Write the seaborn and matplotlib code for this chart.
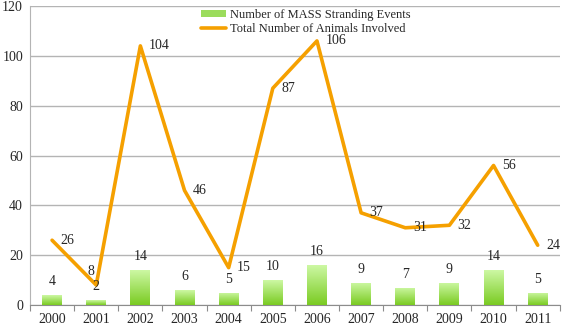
import numpy as np
import pandas as pd
import matplotlib
matplotlib.use("Agg")
import matplotlib.pyplot as plt
import seaborn as sns
from matplotlib.colors import LinearSegmentedColormap
from matplotlib.patches import Patch
from matplotlib.lines import Line2D

years = ["2000", "2001", "2002", "2003", "2004", "2005",
         "2006", "2007", "2008", "2009", "2010", "2011"]
mass_events = [4, 2, 14, 6, 5, 10, 16, 9, 7, 9, 14, 5]
animals_involved = [26, 8, 104, 46, 15, 87, 106, 37, 31, 32, 56, 24]
y_ticks = [0, 20, 40, 60, 80, 100, 120]

bar_label = "Number of MASS Stranding Events"
line_label = "Total Number of Animals Involved"

df = pd.DataFrame({"year": years, "events": mass_events, "animals": animals_involved})

sns.set_theme(style="white")
plt.rcParams["font.family"] = ["Liberation Serif", "DejaVu Serif"]
plt.rcParams["font.size"] = 10

orange = "#f5a000"
fig = plt.figure(figsize=(5.66, 3.25), dpi=100)
ax = fig.add_axes([0.053, 0.0615, 0.936, 0.92])

sns.barplot(data=df, x="year", y="events", ax=ax, color="#9bdc5c",
            width=0.45, saturation=1, zorder=2)

# vertical green gradient inside each bar
grad = LinearSegmentedColormap.from_list("grn", ["#7acb22", "#cdf8a4"])
gimg = np.linspace(0, 1, 256).reshape(-1, 1)
for p in ax.patches:
    x0, y0 = p.get_x(), p.get_y()
    w, h = p.get_width(), p.get_height()
    im = ax.imshow(gimg, cmap=grad, origin="lower", aspect="auto",
                   extent=(x0, x0 + w, y0, y0 + h), zorder=3)
    im.set_clip_path(p)
    p.set_edgecolor("none")

sns.lineplot(x=np.arange(len(years)), y=animals_involved, ax=ax, color=orange,
             lw=2.6, zorder=4, sort=False)

# value labels on bars
for i, v in enumerate(mass_events):
    ax.annotate(str(v), (i, v), xytext=(0, 5), textcoords="offset points",
                ha="center", va="bottom", fontsize=10, zorder=5)

# value labels beside line points
for i, v in enumerate(animals_involved):
    if years[i] == "2001":
        off, ha = (-4, 10), "center"
    else:
        off, ha = (6, 0), "left"
    ax.annotate(str(v), (i, v), xytext=off, textcoords="offset points",
                ha=ha, va="center", fontsize=10, zorder=5)

ax.set_xlim(-0.5, len(years) - 0.5)
ax.set_ylim(0, 120)
ax.set_yticks(y_ticks)
ax.yaxis.grid(True, color="#b4b4b4", lw=1, zorder=0)
ax.set_axisbelow(True)
ax.set_xlabel("")
ax.set_ylabel("")

# tick marks sit between categories
ax.set_xticks(np.arange(len(years)))
ax.set_xticks(np.arange(-0.5, len(years)), minor=True)
ax.tick_params(axis="x", which="major", length=0, pad=6, labelsize=10)
ax.tick_params(axis="x", which="minor", length=4, width=0.8, color="#8c8c8c",
               direction="out", bottom=True)
ax.tick_params(axis="y", length=0, pad=5, labelsize=10)

for s in ["top", "right"]:
    ax.spines[s].set_visible(False)
ax.spines["left"].set_color("#b4b4b4")
ax.spines["bottom"].set_color("#8c8c8c")
ax.spines["left"].set_linewidth(0.8)
ax.spines["bottom"].set_linewidth(0.8)

handles = [Patch(facecolor="#9bdc5c", edgecolor="none"),
           Line2D([0], [0], color=orange, lw=2.6)]
ax.legend(handles, [bar_label, line_label], loc="upper center",
          bbox_to_anchor=(0.52, 1.015), frameon=False, fontsize=9,
          handlelength=2.0, handletextpad=0.3, labelspacing=0.15,
          borderaxespad=0.2, handleheight=0.5)

fig.savefig("out.png", dpi=100)
